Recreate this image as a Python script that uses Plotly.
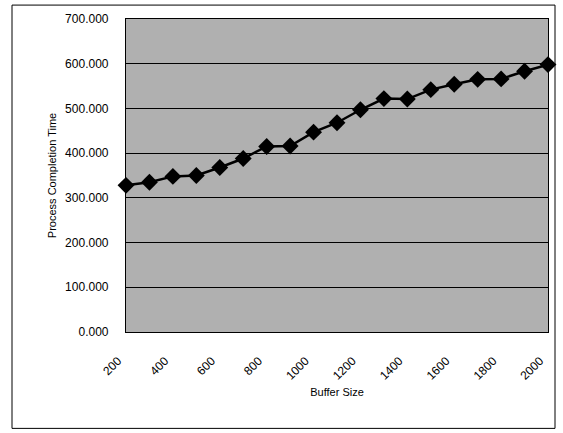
import plotly.graph_objects as go

buffer_sizes = [200, 300, 400, 500, 600, 700, 800, 900, 1000, 1100,
                1200, 1300, 1400, 1500, 1600, 1700, 1800, 1900, 2000]
completion_time = [328, 335, 348, 350, 368, 388, 415, 416, 447, 468,
                   497, 522, 521, 542, 554, 565, 566, 583, 598]
x_tick_labels = [200, 400, 600, 800, 1000, 1200, 1400, 1600, 1800, 2000]
y_ticks = [0, 100, 200, 300, 400, 500, 600, 700]

fig = go.Figure()
fig.add_trace(go.Scatter(
    x=buffer_sizes, y=completion_time, mode="lines+markers",
    line=dict(color="black", width=2.5),
    marker=dict(symbol="diamond", size=13, color="black"),
    showlegend=False, cliponaxis=False,
))

L, R, T, B = 126, 548, 17, 332
W, H = 563, 433

fig.update_layout(
    width=W, height=H,
    margin=dict(l=L, r=W - R, t=T, b=H - B, pad=0),
    paper_bgcolor="white",
    plot_bgcolor="#b0b0b0",
    font=dict(family="Liberation Sans, Arial, sans-serif", size=11, color="black"),
    xaxis=dict(
        range=[200, 2000], tickvals=x_tick_labels,
        ticktext=[str(v) for v in x_tick_labels],
        tickangle=-45, showgrid=False, zeroline=False,
        showline=True, linecolor="black", linewidth=1.2, mirror=True,
        ticks="", ticklabelstandoff=16, ticklabelshift=-8,
        tickfont=dict(size=12),
        title=dict(text="Buffer Size", font=dict(size=11), standoff=6),
    ),
    yaxis=dict(
        range=[0, 700], tickvals=y_ticks, tickformat=".3f",
        showgrid=True, gridcolor="black", gridwidth=1, zeroline=False,
        showline=True, linecolor="black", linewidth=1.2, mirror=True,
        ticks="", ticklabelstandoff=14,
        tickfont=dict(size=12),
        title=dict(text="Process Completion Time", font=dict(size=11), standoff=6),
    ),
)

pw, ph = R - L, B - T
fig.add_shape(type="rect", xref="paper", yref="paper",
              x0=(12 - L) / pw, x1=(555 - L) / pw,
              y0=(B - 429) / ph, y1=(B - 3) / ph,
              line=dict(color="black", width=1), layer="below")

fig.write_html("out.html", config={"displayModeBar": False},
               post_script="document.body.style.margin='0px';document.body.style.overflow='hidden';")
